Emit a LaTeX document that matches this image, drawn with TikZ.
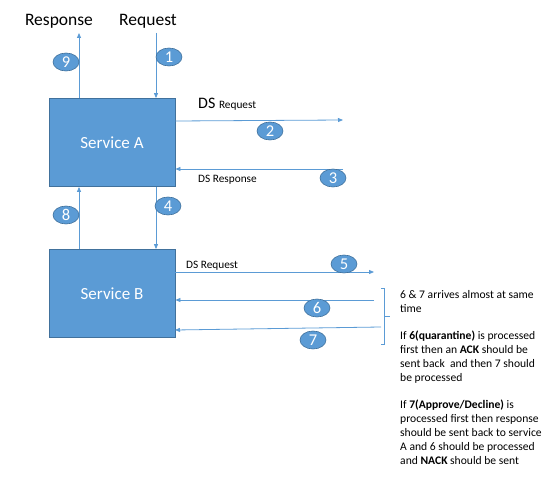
\documentclass[tikz,border=0pt]{standalone}
\usepackage{fontspec}
\setmainfont{Carlito}
\usetikzlibrary{arrows.meta}
\definecolor{obl}{HTML}{5B9BD5}
\definecolor{obd}{HTML}{41719C}
\tikzset{
  svc/.style={draw=obd, fill=obl, line width=0.8pt, minimum width=126pt, minimum height=88pt, inner sep=0pt, text=white, font=\fontsize{17}{19}\selectfont},
  conn/.style={draw=obl, line width=0.8pt, -{Triangle[length=5pt,width=4pt]}},
  num/.style={ellipse, draw=obd, fill=obl, line width=0.6pt, minimum width=26pt, minimum height=18pt, inner sep=0pt, text=white, font=\fontsize{16.5}{18}\selectfont},
  lbl/.style={inner sep=0pt, font=\fontsize{11.3}{13}\selectfont},
  big/.style={inner sep=0pt, font=\fontsize{17.5}{19}\selectfont},
}
\usetikzlibrary{shapes.geometric}
\begin{document}
\begin{tikzpicture}[x=1pt,y=-1pt]
\useasboundingbox (0,0) rectangle (552,489);
\node[svc] (A) at (112,142.5) {Service A};
\node[svc] (B) at (112,293.5) {Service B};
% top labels
\node[big] (resp) at (59,21) {Response};
\node[big] (req) at (148,21) {Request};
\coordinate (respEnd) at (79,33);
\coordinate (reqStart) at (156,33);
\draw[conn] (A.north -| respEnd) -- (respEnd);
\draw[conn] (reqStart) -- (A.north -| reqStart);
\node[num] (n9) at (66,62) {9};
\node[num] (n1) at (169,57) {1};
% DS request / response from A
\coordinate (e2) at (343,120);
\coordinate (s3) at (343,169);
\draw[conn] (A.east |- 0,121) -- (e2);
\draw[conn] (s3) -- (A.east |- s3);
\node[inner sep=0pt, anchor=west] (dsreq1) at (198,104) {\fontsize{16}{18}\selectfont DS \fontsize{11.3}{13}\selectfont Request};
\node[lbl, anchor=west] (dsresp) at (198,180) {DS Response};
\node[num] (n2) at (270,131) {2};
\node[num] (n3) at (333,178) {3};
% between A and B
\coordinate (x4) at (156,0);
\coordinate (x8) at (79,0);
\draw[conn] (A.south -| x4) -- (B.north -| x4);
\draw[conn] (B.north -| x8) -- (A.south -| x8);
\node[num] (n4) at (168,206) {4};
\node[num] (n8) at (66,215) {8};
% B messages
\coordinate (e5) at (374,272);
\coordinate (s6) at (374,300);
\coordinate (s7) at (381,327);
\draw[conn] (B.east |- e5) -- (e5);
\draw[conn] (s6) -- (B.east |- s6);
\draw[conn] (s7) -- (175,330);
\node[lbl, anchor=west] (dsreq2) at (186,266) {DS Request};
\node[num] (n5) at (344,264) {5};
\node[num] (n6) at (317,308) {6};
\node[num] (n7) at (313,340) {7};
% bracket
\coordinate (bt) at (381,288);
\coordinate (bb) at (381,344);
\coordinate (bm) at (390,316);
\draw[draw=obl, line width=0.7pt] (bt) -- ++(3,0) |- (bb);
\draw[draw=obl, line width=0.7pt] (384,316) -- (bm);
% note
\node[anchor=north west, inner sep=0pt, align=left, font=\fontsize{11.6}{14}\selectfont] (note) at (400,290) {%
6 \& 7 arrives almost at same\\
time\\[13pt]
If \textbf{6(quarantine)} is processed\\
first then an \textbf{ACK} should be\\
sent back~ and then 7 should\\
be processed\\[13pt]
If \textbf{7(Approve/Decline)} is\\
processed first then response\\
should be sent back to service\\
A and 6 should be processed\\
and \textbf{NACK} should be sent};
\end{tikzpicture}
\end{document}
